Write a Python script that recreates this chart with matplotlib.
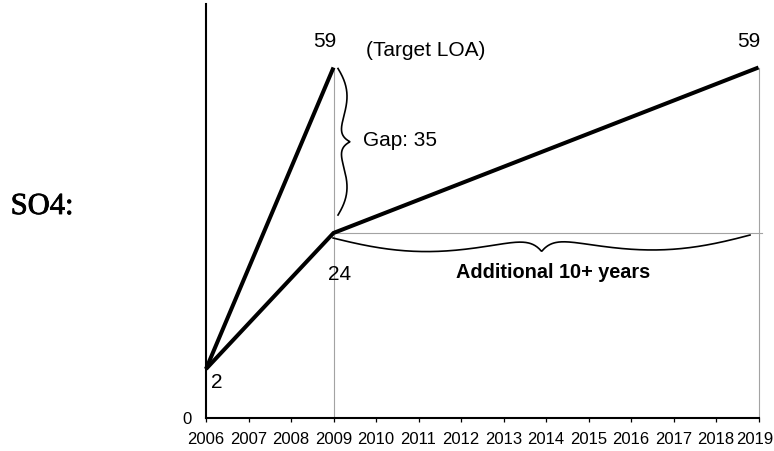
import numpy as np
import matplotlib
matplotlib.use("Agg")
import matplotlib.pyplot as plt
from matplotlib.scale import FuncScale
from matplotlib.transforms import ScaledTranslation
import matplotlib.patheffects as pe

plt.rcParams['font.family'] = ['Liberation Sans', 'DejaVu Sans']

# ---- data -------------------------------------------------------------
tick_years = list(range(2006, 2020))
target_years = [2006, 2009]
target_values = [2, 59]
actual_years = [2006, 2009, 2019]
actual_values = [2, 24, 59]
row_label = "SO4:"
target_note = "(Target LOA)"
extra_note = "Additional 10+ years"

gap = target_values[-1] - actual_values[1]

# ---- figure -----------------------------------------------------------
DPI = 100
fig = plt.figure(figsize=(7.74, 4.51), dpi=DPI)
ax = fig.add_axes([206 / 774, 33 / 451, 552.5 / 774, 414 / 451])

# piecewise vertical scale of the schematic (value -> height in pixels)
_v = np.array([0.0, 2.0, 24.0, 59.0, 100.0])
_h = np.array([0.0, 49.0, 185.0, 350.5, 350.5 + 41 * 4.729])


def _fwd(v):
    return np.interp(np.asarray(v, dtype=float), _v, _h)


def _inv(h):
    return np.interp(np.asarray(h, dtype=float), _h, _v)


ax.set_yscale(FuncScale(ax, (_fwd, _inv)))
ax.set_xlim(tick_years[0], tick_years[-1])
ax.set_ylim(0, _inv(414.0))

# thin grey guide lines
grey = "#a3a3a3"
ax.plot([actual_years[1]] * 2, [0, target_values[-1]], color=grey, lw=0.8,
        zorder=1, clip_on=False)
ax.plot([actual_years[-1]] * 2, [0, actual_values[-1]], color=grey, lw=0.8,
        zorder=1, clip_on=False)
ax.plot([actual_years[1], actual_years[-1] + 0.08], [actual_values[1]] * 2,
        color=grey, lw=0.8, zorder=1, clip_on=False)

# trajectories
ax.plot(target_years, target_values, color="black", lw=2.9, zorder=3,
        solid_capstyle="butt", solid_joinstyle="miter", clip_on=False)
ax.plot(actual_years, actual_values, color="black", lw=2.9, zorder=3,
        solid_capstyle="butt", solid_joinstyle="miter", clip_on=False)


def brace(start, end, bump, taper, tip, sharp, lw=1.2):
    """Curly brace from start to end (data coords), bulging to the left of
    the travel direction; shape sizes are in pixels."""
    p0 = ax.transData.transform(start)
    p1 = ax.transData.transform(end)
    d = p1 - p0
    L = np.hypot(*d)
    u = d / L
    n = np.array([-u[1], u[0]])
    s = np.linspace(0, 1, 600)
    h = np.minimum(s, 1 - s)
    off = bump * np.sin(2 * np.pi * h) * (1 - taper * 2 * h) + tip * (2 * h) ** sharp
    pts = p0 + np.outer(s * L, u) + np.outer(off, n)
    data = ax.transData.inverted().transform(pts)
    ax.plot(data[:, 0], data[:, 1], color="black", lw=lw, zorder=2,
            clip_on=False)


# gap brace (right of the 2009 target point)
brace((2009.106, 58.79), (2009.106, 27.8), bump=14.2, taper=0.837, tip=12,
      sharp=12)
# delay brace (under the 24 level)
brace((2018.8, 23.67), (2008.99, 23.19), bump=17.1, taper=0.349, tip=15,
      sharp=20)

# value labels
lab = dict(fontsize=15, textcoords="offset pixels", va="baseline")
ax.annotate(str(target_values[-1]), (target_years[-1], target_values[-1]),
            xytext=(-8.5, 20.5), ha="center", **lab)
ax.annotate(str(actual_values[-1]), (actual_years[-1], actual_values[-1]),
            xytext=(-10, 20.5), ha="center", annotation_clip=False, **lab)
ax.annotate(target_note, (target_years[-1], target_values[-1]),
            xytext=(32.5, 11), ha="left", **lab)
ax.annotate(f"Gap: {gap}", (target_years[-1], target_values[-1]),
            xytext=(29.5, -79), ha="left", **lab)
ax.annotate(str(actual_values[1]), (actual_years[1], actual_values[1]),
            xytext=(6.5, -47), ha="center", **lab)
ax.annotate(str(actual_values[0]), (actual_years[0], actual_values[0]),
            xytext=(10.5, -19), ha="center", **lab)
ax.annotate(extra_note, ((actual_years[1] + actual_years[-1]) / 2, actual_values[1]),
            xytext=(7, -45), ha="center", fontweight="bold",
            fontsize=14.3, textcoords="offset pixels", va="baseline")

# row label on the left
fig.text(42 / 774, 1 - 214 / 451, row_label, family="Liberation Serif",
         fontsize=22, ha="center", va="baseline",
         path_effects=[pe.withStroke(linewidth=0.6, foreground="black")])

# axes styling
for side in ("top", "right"):
    ax.spines[side].set_visible(False)
for side in ("left", "bottom"):
    ax.spines[side].set_linewidth(1.5)
    ax.spines[side].set_color("black")

ax.set_xticks(tick_years)
ax.set_xticklabels([str(y) for y in tick_years])
ax.tick_params(axis="x", direction="out", length=3, width=0.9, pad=7,
               labelsize=12)
ax.set_yticks([0])
ax.set_yticklabels(["0"])
ax.tick_params(axis="y", length=0, pad=10, labelsize=12)

# keep the last year label inside the canvas
last = ax.get_xticklabels()[-1]
last.set_transform(last.get_transform()
                   + ScaledTranslation(-4 / DPI, 0, fig.dpi_scale_trans))

fig.savefig("out.png", dpi=DPI)
